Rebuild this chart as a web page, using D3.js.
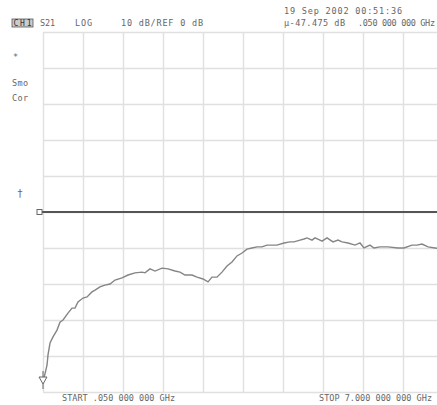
<!DOCTYPE html>
<html><head><meta charset="utf-8">
<script src="https://cdn.jsdelivr.net/npm/d3@7"></script>
<style>
html,body{margin:0;padding:0;background:#fff;overflow:hidden}
svg{display:block}
text{font-family:"DejaVu Sans Mono",monospace;fill:#666;font-size:8.5px}
</style></head>
<body><svg id="c" width="437" height="405"></svg>
<script>
// Frequency (GHz) and S21 magnitude (dB)
const freqGHz = [0.05,0.067,0.10,0.12,0.137,0.172,0.224,0.293,0.345,0.398,0.484,0.554,0.606,0.658,0.745,0.815,0.901,0.954,1.04,1.127,1.214,1.301,1.423,1.527,1.649,1.77,1.822,1.909,1.996,2.118,2.222,2.344,2.43,2.517,2.639,2.726,2.83,2.917,2.986,3.073,3.16,3.247,3.334,3.421,3.508,3.595,3.68,3.77,3.855,3.942,4.03,4.116,4.237,4.342,4.411,4.516,4.585,4.637,4.724,4.776,4.863,4.898,4.985,5.089,5.176,5.245,5.35,5.471,5.558,5.627,5.731,5.8,5.905,6.044,6.218,6.322,6.461,6.548,6.635,6.74,6.861,7.0];
const s21dB = [-47.5,-46.1,-43.9,-42.5,-39.7,-36.4,-34.7,-32.8,-30.6,-30.0,-28.1,-26.7,-26.7,-25.0,-23.9,-23.6,-22.2,-21.7,-20.8,-20.3,-20.0,-18.9,-18.3,-17.5,-16.9,-16.7,-16.9,-15.8,-16.4,-15.6,-15.8,-16.4,-16.7,-17.5,-17.5,-18.1,-18.6,-19.4,-18.1,-18.1,-16.7,-15.0,-13.9,-12.2,-11.4,-10.3,-10.0,-9.7,-9.7,-9.2,-9.2,-9.2,-8.6,-8.3,-8.3,-7.8,-7.5,-7.2,-7.8,-7.2,-7.8,-8.1,-7.2,-8.3,-7.8,-8.3,-8.6,-9.2,-8.6,-10.0,-9.2,-10.0,-9.7,-9.7,-10.0,-10.0,-9.2,-9.2,-8.9,-9.7,-10.0,-10.3];
const freqRange = [0.05, 7.0];
const dbRange = [-50, 50];
const refLevel = 0;
const headerTexts = ["S21", "LOG", "10 dB/REF 0 dB"];
const dateText = "19 Sep 2002  00:51:36";
const markerText = "\u03bc-47.475 dB";
const markerFreqText = ".050 000 000 GHz";
const startText = "START .050 000 000 GHz";
const stopText = "STOP 7.000 000 000 GHz";

const svg = d3.select("#c");
const x = d3.scaleLinear().domain(freqRange).range([43, 443]);
const y = d3.scaleLinear().domain(dbRange).range([392, 32]);

const xTicks = d3.range(11).map(i => freqRange[0] + i*(freqRange[1]-freqRange[0])/10);
const yTicks = d3.range(11).map(i => dbRange[0] + i*10);

// grid via axes
const gx = svg.append("g").attr("transform","translate(0,392)")
  .call(d3.axisBottom(x).tickValues(xTicks).tickSize(-360).tickFormat(""));
const gy = svg.append("g").attr("transform","translate(43,0)")
  .call(d3.axisLeft(y).tickValues(yTicks).tickSize(-400).tickFormat(""));
[gx,gy].forEach(g=>{
  g.select(".domain").remove();
  g.selectAll(".tick line").attr("stroke","#e0e0e0").attr("stroke-width",1.4);
});

// reference line
svg.append("line").attr("x1",39).attr("x2",443).attr("y1",y(refLevel)).attr("y2",y(refLevel))
  .attr("stroke","#555").attr("stroke-width",2);
svg.append("rect").attr("x",37).attr("y",y(refLevel)-2.5).attr("width",5).attr("height",5)
  .attr("fill","#fff").attr("stroke","#666").attr("stroke-width",1);

// trace
const data = freqGHz.map((f,i)=>({f, v:s21dB[i]}));
svg.append("path").datum(data)
  .attr("fill","none").attr("stroke","#858585").attr("stroke-width",1.4)
  .attr("d", d3.line().x(d=>x(d.f)).y(d=>y(d.v)));

// marker
const mx = x(freqGHz[0]), my = y(s21dB[0]);
svg.append("path").attr("d",`M${mx-4},${my-6}L${mx+4},${my-6}L${mx},${my+1}Z`)
  .attr("fill","#fff").attr("stroke","#666").attr("stroke-width",1);
svg.append("line").attr("x1",mx).attr("x2",mx).attr("y1",my-12).attr("y2",my-6).attr("stroke","#666");
svg.append("line").attr("x1",mx).attr("x2",mx).attr("y1",my+1).attr("y2",my+6).attr("stroke","#666");

// header
svg.append("rect").attr("x",12).attr("y",19).attr("width",21).attr("height",8)
  .attr("fill","#ccc").attr("stroke","#555").attr("stroke-width",0.8);
svg.append("text").attr("x",13.5).attr("y",26).text("CH1").attr("textLength",18).style("fill","#333").style("font-size","8px");
svg.append("text").attr("x",40).attr("y",26).text(headerTexts[0]).attr("textLength",15);
svg.append("text").attr("x",75).attr("y",26).text(headerTexts[1]).attr("textLength",17);
svg.append("text").attr("x",121).attr("y",26).text(headerTexts[2]).attr("textLength",82);
svg.append("text").attr("x",284).attr("y",14).text(dateText).attr("textLength",118);
svg.append("text").attr("x",284).attr("y",26).text(markerText).attr("textLength",61);
svg.append("text").attr("x",358).attr("y",26).text(markerFreqText).attr("textLength",77);

// left annotations
svg.append("text").attr("x",13).attr("y",60).text("*");
svg.append("text").attr("x",12).attr("y",86).text("Smo").attr("textLength",16);
svg.append("text").attr("x",12).attr("y",101).text("Cor").attr("textLength",16);
svg.append("text").attr("x",17).attr("y",197).text("\u2020").style("font-size","10px");

// footer
svg.append("text").attr("x",62).attr("y",401).text(startText).attr("textLength",113);
svg.append("text").attr("x",319).attr("y",401).text(stopText).attr("textLength",113);
</script></body></html>
